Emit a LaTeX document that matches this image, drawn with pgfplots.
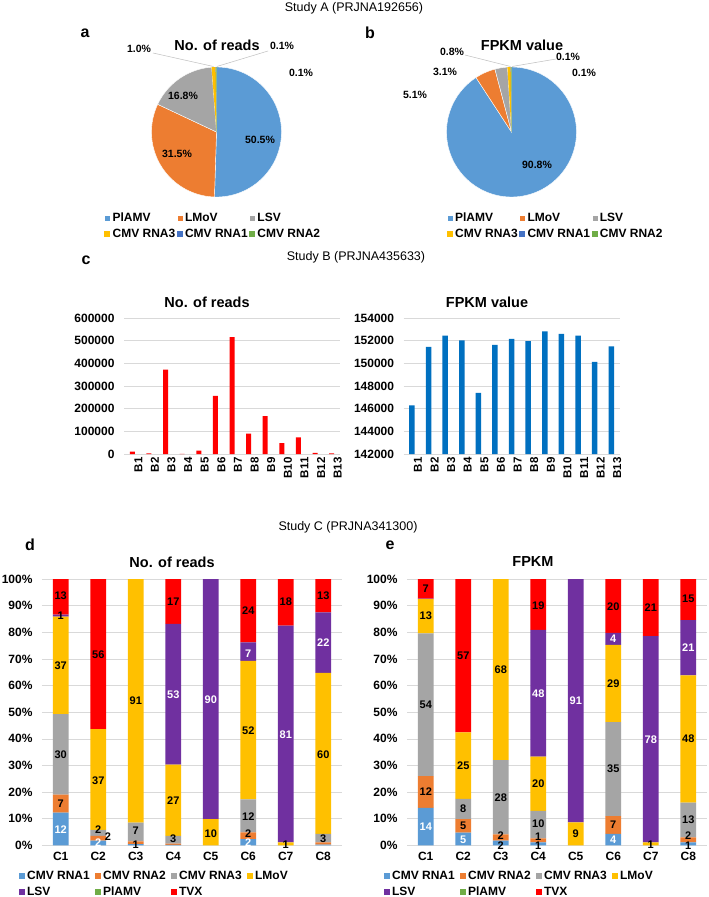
\documentclass[border=0pt]{standalone}
\usepackage{graphicx}
\usepackage{pgfplots}
\pgfplotsset{compat=1.18}
\usepackage{fontspec}
\setmainfont{Liberation Sans}
\definecolor{pblue}{HTML}{5B9BD5}
\definecolor{porange}{HTML}{ED7D31}
\definecolor{pgray}{HTML}{A5A5A5}
\definecolor{pgold}{HTML}{FFC000}
\definecolor{pdblue}{HTML}{4472C4}
\definecolor{pgreen}{HTML}{70AD47}
\definecolor{ppurple}{HTML}{7030A0}
\definecolor{pred}{HTML}{FF0000}
\definecolor{fblue}{HTML}{0070C0}
\definecolor{gridc}{HTML}{D9D9D9}
\definecolor{leadc}{HTML}{BFBFBF}
\newcommand{\fs}[1]{\fontsize{#1}{#1}\selectfont}
\pgfplotsset{
  sqlegend/.style={legend image code/.code={\fill[##1] (0pt,-3pt) rectangle (6pt,3pt);}},
  pie/.style={scale only axis, width=130pt, height=130pt, anchor=center,
    xmin=-1, xmax=1, ymin=-1, ymax=1, hide axis, clip=false, sqlegend,
    legend columns=3,
    legend style={draw=none, fill=none, anchor=north west, font=\fs{12}\bfseries,
      cells={anchor=west}, inner sep=0pt, row sep=2pt}},
  slice/.style={draw=white, line width=0.4pt, samples=#1},
  cbar/.style={scale only axis, width=216pt, height=136pt, anchor=south west,
    axis line style={draw=none}, major tick length=0pt, tick style={draw=none},
    ymajorgrids, grid style={gridc, line width=0.6pt},
    xmin=0.5, xmax=13.5, xtick={1,...,13},
    xticklabels={B1,B2,B3,B4,B5,B6,B7,B8,B9,B10,B11,B12,B13},
    xticklabel style={font=\fs{11.5}\bfseries, rotate=90, anchor=east, yshift=-6pt},
    yticklabel style={font=\fs{12}\bfseries, xshift=-6pt,
      /pgf/number format/fixed, /pgf/number format/precision=0,
      /pgf/number format/1000 sep={}},
    scaled y ticks=false,
    /pgf/number format/assume math mode=true,
    ybar, bar width=5pt},
  stk/.style={scale only axis, width=300pt, height=266.2pt, anchor=south west,
    axis line style={draw=none}, major tick length=0pt, tick style={draw=none},
    ymajorgrids, grid style={gridc, line width=0.6pt},
    xmin=-0.5, xmax=7.5, ymin=0, ymax=100,
    xtick={0,...,7}, xticklabels={C1,C2,C3,C4,C5,C6,C7,C8},
    ytick={0,10,...,100},
    yticklabel={\pgfmathprintnumber[fixed,precision=0]{\tick}\%},
    xticklabel style={font=\fs{12}\bfseries, yshift=-3pt},
    yticklabel style={font=\fs{12}\bfseries, xshift=-6pt},
    /pgf/number format/assume math mode=true,
    ybar stacked, bar width=15.6pt, sqlegend,
    legend columns=4,
    legend style={draw=none, fill=none, anchor=north west, font=\fs{12}\bfseries,
      cells={anchor=west}, inner sep=0pt, row sep=1.5pt,
      at={(axis description cs:-0.077,-0.090)}}},
  lab/.style={scale only axis, width=300pt, height=266.2pt, anchor=south west,
    xmin=-0.5, xmax=7.5, ymin=0, ymax=100, hide axis, clip=false},
  blab/.style={only marks, mark=none, nodes near coords, point meta=explicit symbolic,
    nodes near coords align={center},
    nodes near coords style={font=\fs{11}\bfseries, text=black, inner sep=0pt}},
  wlab/.style={blab, nodes near coords style={text=white}},
}
\begin{document}
\begin{tikzpicture}
\fill[white] (0pt,0pt) rectangle (709pt,-897pt);
\useasboundingbox (0pt,0pt) rectangle (709pt,-897pt);

% headers and letters
\node[font=\fs{12.5}] at (354pt,-8pt) {Study A (PRJNA192656)};
\node[font=\fs{12.5}] at (356pt,-257pt) {Study B (PRJNA435633)};
\node[font=\fs{12.5}] at (348pt,-527pt) {Study C (PRJNA341300)};
\node[font=\fs{16}\bfseries] at (85pt,-33pt) {a};
\node[font=\fs{16}\bfseries] at (370pt,-33pt) {b};
\node[font=\fs{16}\bfseries] at (86pt,-260pt) {c};
\node[font=\fs{16}\bfseries] at (30pt,-545pt) {d};
\node[font=\fs{16}\bfseries] at (390pt,-545pt) {e};
\node[font=\fs{14.5}\bfseries] at (217pt,-45pt) {No. of reads};
\node[font=\fs{14.5}\bfseries] at (522pt,-45pt) {FPKM value};
\node[font=\fs{14.5}\bfseries] at (207pt,-302pt) {No. of reads};
\node[font=\fs{14.5}\bfseries] at (487pt,-302pt) {FPKM value};
\node[font=\fs{14.5}\bfseries] at (172pt,-562pt) {No. of reads};
\node[font=\fs{14.5}\bfseries] at (533pt,-562pt) {FPKM};

% ---- pie a
\begin{axis}[pie, at={(216.5pt,-132pt)},
  legend style={at={(axis description cs:-0.365,-0.108)}}]
\addplot[fill=pblue, slice=90, domain=-91.8:90] ({cos(x)},{sin(x)}) -- (axis cs:0,0) -- cycle;
\addlegendentry{\makebox[62pt][l]{PlAMV}}
\addplot[fill=porange, slice=60, domain=-205.2:-91.8] ({cos(x)},{sin(x)}) -- (axis cs:0,0) -- cycle;
\addlegendentry{\makebox[62pt][l]{LMoV}}
\addplot[fill=pgray, slice=40, domain=-265.68:-205.2] ({cos(x)},{sin(x)}) -- (axis cs:0,0) -- cycle;
\addlegendentry{\makebox[62pt][l]{LSV}}
\addplot[fill=pgold, draw=none, samples=5, domain=-269.28:-265.68] ({cos(x)},{sin(x)}) -- (axis cs:0,0) -- cycle;
\addlegendentry{\makebox[62pt][l]{CMV RNA3}}
\addplot[fill=pdblue, draw=none, samples=2, domain=-269.64:-269.28] ({cos(x)},{sin(x)}) -- (axis cs:0,0) -- cycle;
\addlegendentry{\makebox[62pt][l]{CMV RNA1}}
\addplot[fill=pgreen, draw=none, samples=2, domain=-270:-269.64] ({cos(x)},{sin(x)}) -- (axis cs:0,0) -- cycle;
\addlegendentry{\makebox[62pt][l]{CMV RNA2}}
\end{axis}
\draw[leadc, line width=0.5pt] (153pt,-53pt) -- (213.5pt,-66.5pt);
\draw[leadc, line width=0.5pt] (268pt,-51pt) -- (216.8pt,-66.5pt);
\begin{scope}[every node/.style={font=\fs{10.5}\bfseries}]
\node at (260pt,-140pt) {50.5\%};
\node at (177pt,-154pt) {31.5\%};
\node at (183pt,-96pt) {16.8\%};
\node at (139pt,-49pt) {1.0\%};
\node at (282pt,-46pt) {0.1\%};
\node at (301pt,-73pt) {0.1\%};
\end{scope}

% ---- pie b
\begin{axis}[pie, at={(511.5pt,-132pt)},
  legend style={at={(axis description cs:0.0,-0.108)}}]
\addplot[fill=pblue, slice=120, domain=-236.88:90] ({cos(x)},{sin(x)}) -- (axis cs:0,0) -- cycle;
\addlegendentry{\makebox[62pt][l]{PlAMV}}
\addplot[fill=porange, slice=12, domain=-255.24:-236.88] ({cos(x)},{sin(x)}) -- (axis cs:0,0) -- cycle;
\addlegendentry{\makebox[62pt][l]{LMoV}}
\addplot[fill=pgray, slice=8, domain=-266.4:-255.24] ({cos(x)},{sin(x)}) -- (axis cs:0,0) -- cycle;
\addlegendentry{\makebox[62pt][l]{LSV}}
\addplot[fill=pgold, draw=none, samples=4, domain=-269.28:-266.4] ({cos(x)},{sin(x)}) -- (axis cs:0,0) -- cycle;
\addlegendentry{\makebox[62pt][l]{CMV RNA3}}
\addplot[fill=pdblue, draw=none, samples=2, domain=-269.64:-269.28] ({cos(x)},{sin(x)}) -- (axis cs:0,0) -- cycle;
\addlegendentry{\makebox[62pt][l]{CMV RNA1}}
\addplot[fill=pgreen, draw=none, samples=2, domain=-270:-269.64] ({cos(x)},{sin(x)}) -- (axis cs:0,0) -- cycle;
\addlegendentry{\makebox[62pt][l]{CMV RNA2}}
\end{axis}
\draw[leadc, line width=0.5pt] (465pt,-55pt) -- (510.5pt,-66.5pt);
\draw[leadc, line width=0.5pt] (556pt,-59pt) -- (512pt,-66.5pt);
\begin{scope}[every node/.style={font=\fs{10.5}\bfseries}]
\node at (537pt,-165pt) {90.8\%};
\node at (415pt,-95pt) {5.1\%};
\node at (445pt,-72pt) {3.1\%};
\node at (452pt,-52pt) {0.8\%};
\node at (568pt,-57pt) {0.1\%};
\node at (584pt,-73pt) {0.1\%};
\end{scope}

% ---- panel c
\begin{axis}[cbar, at={(124pt,-454pt)}, ymin=0, ymax=600000,
  ytick={0,100000,200000,300000,400000,500000,600000}]
\addplot[fill=pred, draw=none] coordinates {(1,11000) (2,3000) (3,372000) (4,500) (5,15000) (6,257000) (7,516000) (8,90000) (9,167000) (10,48000) (11,73000) (12,5000) (13,3000)};
\end{axis}
\begin{axis}[cbar, at={(403.6pt,-454pt)}, ymin=142000, ymax=154000,
  ytick={142000,144000,146000,148000,150000,152000,154000}, bar width=5.5pt]
\addplot[fill=fblue, draw=none] coordinates {(1,146300) (2,151450) (3,152450) (4,152030) (5,147400) (6,151620) (7,152150) (8,151970) (9,152830) (10,152590) (11,152440) (12,150140) (13,151500)};
\end{axis}

% ---- panel d
\begin{axis}[stk, at={(42pt,-845.3pt)}]
\addplot[fill=pblue, draw=none] coordinates {(0,12.3) (1,1.8) (2,0.4) (3,0.2) (4,0) (5,2.3) (6,0) (7,0.3)};
\addlegendentry{\makebox[66pt][l]{CMV RNA1}}
\addplot[fill=porange, draw=none] coordinates {(0,6.7) (1,1.7) (2,1.1) (3,0.4) (4,0) (5,2.6) (6,0) (7,0.8)};
\addlegendentry{\makebox[66pt][l]{CMV RNA2}}
\addplot[fill=pgray, draw=none] coordinates {(0,30.3) (1,2.3) (2,7.0) (3,2.9) (4,0) (5,12.4) (6,0) (7,3.2)};
\addlegendentry{\makebox[66pt][l]{CMV RNA3}}
\addplot[fill=pgold, draw=none] coordinates {(0,36.6) (1,37.8) (2,91.5) (3,26.8) (4,9.8) (5,52.0) (6,1.1) (7,60.5)};
\addlegendentry{\makebox[66pt][l]{LMoV}}
\addplot[fill=ppurple, draw=none] coordinates {(0,0.8) (1,0) (2,0) (3,52.9) (4,90.2) (5,6.9) (6,81.4) (7,22.7)};
\addlegendentry{\makebox[66pt][l]{LSV}}
\addplot[fill=pgreen, draw=none] coordinates {(0,0) (1,0) (2,0) (3,0) (4,0) (5,0) (6,0) (7,0)};
\addlegendentry{\makebox[66pt][l]{PlAMV}}
\addplot[fill=pred, draw=none] coordinates {(0,13.3) (1,56.4) (2,0) (3,16.8) (4,0) (5,23.8) (6,17.5) (7,12.5)};
\addlegendentry{\makebox[66pt][l]{TVX}}
\end{axis}
\begin{axis}[lab, at={(42pt,-845.3pt)}]
\addplot[blab] table[meta=l] {
x y l
0 15.5 7
0 34.0 30
0 67.6 37
0 86.1 1
0 93.9 13
1.26 3.3 2
1 5.7 2
1 24.3 37
1 71.7 56
2 0.3 1
2 5.5 7
2 54.2 91
3 2.3 3
3 16.8 27
3 91.5 17
4 4.5 10
5 4.4 2
5 10.8 12
5 43.1 52
5 88.0 24
6 0.2 1
6 91.5 18
7 2.3 3
7 33.9 60
7 93.7 13
};
\addplot[wlab] table[meta=l] {
x y l
0 6.0 12
1 0.9 2
3 56.7 53
4 54.6 90
5 0.9 2
5 72.1 7
6 41.7 81
7 76.1 22
};
\end{axis}

% ---- panel e
\begin{axis}[stk, at={(407pt,-845.3pt)}]
\addplot[fill=pblue, draw=none] coordinates {(0,14.1) (1,4.8) (2,1.8) (3,1.1) (4,0) (5,4.3) (6,0) (7,1.1)};
\addlegendentry{\makebox[66pt][l]{CMV RNA1}}
\addplot[fill=porange, draw=none] coordinates {(0,11.9) (1,5.0) (2,2.3) (3,1.5) (4,0) (5,6.7) (6,0) (7,1.9)};
\addlegendentry{\makebox[66pt][l]{CMV RNA2}}
\addplot[fill=pgray, draw=none] coordinates {(0,53.6) (1,7.6) (2,27.9) (3,10.3) (4,0) (5,35.3) (6,0) (7,13.0)};
\addlegendentry{\makebox[66pt][l]{CMV RNA3}}
\addplot[fill=pgold, draw=none] coordinates {(0,12.9) (1,25.0) (2,68.0) (3,20.4) (4,8.6) (5,29.0) (6,1.1) (7,47.8)};
\addlegendentry{\makebox[66pt][l]{LMoV}}
\addplot[fill=ppurple, draw=none] coordinates {(0,0.2) (1,0) (2,0) (3,47.6) (4,91.4) (5,4.5) (6,77.5) (7,20.8)};
\addlegendentry{\makebox[66pt][l]{LSV}}
\addplot[fill=pgreen, draw=none] coordinates {(0,0) (1,0) (2,0) (3,0) (4,0) (5,0) (6,0) (7,0)};
\addlegendentry{\makebox[66pt][l]{PlAMV}}
\addplot[fill=pred, draw=none] coordinates {(0,7.3) (1,57.6) (2,0) (3,19.1) (4,0) (5,20.2) (6,21.4) (7,15.4)};
\addlegendentry{\makebox[66pt][l]{TVX}}
\end{axis}
\begin{axis}[lab, at={(407pt,-845.3pt)}]
\addplot[blab] table[meta=l] {
x y l
0 20.2 12
0 52.7 54
0 86.1 13
0 96.5 7
1 7.3 5
1 13.9 8
1 29.8 25
1 71.2 57
2 -0.2 2
2 3.7 2
2 18.0 28
2 65.9 68
3 -0.3 1
3 3.4 1
3 8.2 10
3 23.0 20
3 90.0 19
4 4.3 9
5 7.6 7
5 28.7 35
5 60.8 29
5 89.6 20
6 0.2 1
6 89.4 21
7 -0.3 1
7 3.5 2
7 9.6 13
7 39.9 48
7 92.5 15
};
\addplot[wlab] table[meta=l] {
x y l
0 7.0 14
1 2.0 5
3 56.8 48
4 54.2 91
5 2.0 4
5 77.5 4
6 39.6 78
7 74.2 21
};
\end{axis}
\end{tikzpicture}
\end{document}
